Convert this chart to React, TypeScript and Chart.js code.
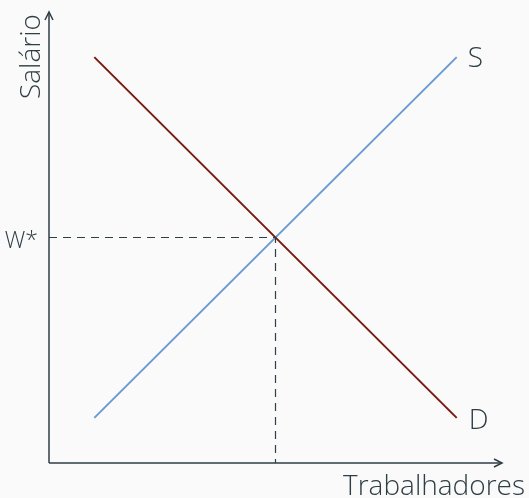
import React, { useEffect, useRef } from "react";
import { Chart, registerables } from "chart.js";

Chart.register(...registerables);

const demandX = [1, 9];
const demandY = [9, 1];
const supplyX = [1, 9];
const supplyY = [1, 9];
const eqX = 5;
const eqY = 5;
const xLabel = "Trabalhadores";
const yLabel = "Salário";
const wLabel = "W*";
const sLabel = "S";
const dLabel = "D";

const TEXT = "#2e3e44";
const FONT = "300 28px 'Open Sans', 'Noto Sans', sans-serif";
const WFONT = "300 23px 'Open Sans', 'Noto Sans', sans-serif";

export default function App() {
  const ref = useRef<HTMLCanvasElement>(null);
  useEffect(() => {
    if (!ref.current) return;
    const annot = {
      id: "annot",
      afterDraw(chart: any) {
        const { ctx, chartArea, scales } = chart;
        const xs = scales.x, ys = scales.y;
        const l = chartArea.left, b = chartArea.bottom, t = chartArea.top, r = chartArea.right;
        ctx.save();
        ctx.strokeStyle = TEXT;
        ctx.fillStyle = TEXT;
        ctx.lineWidth = 1.5;
        ctx.beginPath();
        ctx.moveTo(l, b);
        ctx.lineTo(l, t);
        ctx.stroke();
        ctx.beginPath();
        ctx.moveTo(l - 4, t + 8);
        ctx.lineTo(l, t);
        ctx.lineTo(l + 4, t + 8);
        ctx.stroke();
        ctx.beginPath();
        ctx.moveTo(l, b);
        ctx.lineTo(r, b);
        ctx.stroke();
        ctx.beginPath();
        ctx.moveTo(r - 8, b - 4);
        ctx.lineTo(r, b);
        ctx.lineTo(r - 8, b + 4);
        ctx.stroke();
        ctx.font = FONT;
        ctx.textBaseline = "alphabetic";
        ctx.textAlign = "right";
        ctx.fillText(xLabel, 525, 495);
        ctx.font = WFONT;
        ctx.fillText(wLabel, 38, ys.getPixelForValue(eqY) + 10);
        ctx.font = FONT;
        ctx.textAlign = "left";
        ctx.fillText(sLabel, xs.getPixelForValue(supplyX[1]) + 11, ys.getPixelForValue(supplyY[1]) + 10);
        ctx.fillText(dLabel, xs.getPixelForValue(demandX[1]) + 12, ys.getPixelForValue(demandY[1]) + 11);
        ctx.translate(40, 99);
        ctx.rotate(-Math.PI / 2);
        ctx.fillText(yLabel, 0, 0);
        ctx.restore();
      },
    };
    const chart = new Chart(ref.current, {
      type: "scatter",
      data: {
        datasets: [
          {
            data: [
              { x: 0, y: eqY },
              { x: eqX, y: eqY },
              { x: eqX, y: 0 },
            ],
            showLine: true,
            borderColor: TEXT,
            borderWidth: 1.2,
            borderDash: [8, 6],
            pointRadius: 0,
          },
          {
            data: demandX.map((x, i) => ({ x, y: demandY[i] })),
            showLine: true,
            borderColor: "#7a1a0e",
            borderWidth: 2,
            pointRadius: 0,
          },
          {
            data: supplyX.map((x, i) => ({ x, y: supplyY[i] })),
            showLine: true,
            borderColor: "#6b9bd0",
            borderWidth: 2,
            pointRadius: 0,
          },
        ],
      },
      options: {
        responsive: false,
        animation: false,
        layout: { padding: { left: 49, top: 12, right: 27, bottom: 35 } },
        plugins: { legend: { display: false }, tooltip: { enabled: false } },
        scales: {
          x: { type: "linear", min: 0, max: 10, display: false },
          y: { type: "linear", min: 0, max: 10, display: false },
        },
      },
      plugins: [annot],
    });
    return () => chart.destroy();
  }, []);
  return (
    <div style={{ position: "fixed", left: 0, top: 0, width: 529, height: 498, background: "#fafafa" }}>
      <canvas ref={ref} width={529} height={498} />
    </div>
  );
}
